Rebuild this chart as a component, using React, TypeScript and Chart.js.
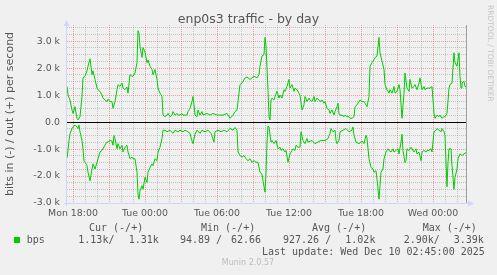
import React, { useEffect, useRef } from 'react';
import { Chart, registerables } from 'chart.js';

Chart.register(...registerables);

// ---------- data ----------
const chartTitle = 'enp0s3 traffic - by day';
const yAxisTitle = 'bits in (-) / out (+) per second';
const seriesName = 'bps';
const sampleMinutes = 5;           // rrd step
const firstSampleHour = -0.5;      // Mon 17:30, hours relative to Mon 18:00
const xMinHour = -0.5;
const xMaxHour = 32.75;

const xGridHours = [0, 1, 2, 3, 4, 5, 6, 7, 8, 9, 10, 11, 12, 13, 14, 15, 16, 17, 18, 19, 20, 21, 22, 23, 24, 25, 26, 27, 28, 29, 30, 31, 32];
const xLabelHours = [0, 6, 12, 18, 24, 30];
const xLabels = ['Mon 18:00', 'Tue 00:00', 'Tue 06:00', 'Tue 12:00', 'Tue 18:00', 'Wed 00:00'];

const yMin = -3;
const yMax = 3.6;
const yGridValues = [-3, -2.75, -2.5, -2.25, -2, -1.75, -1.5, -1.25, -1, -0.75, -0.5, -0.25, 0, 0.25, 0.5, 0.75, 1, 1.25, 1.5, 1.75, 2, 2.25, 2.5, 2.75, 3, 3.25, 3.5];
const yLabelValues = [-3, -2, -1, 0, 1, 2, 3];
const yLabels = ['-3.0 k', '-2.0 k', '-1.0 k', '0.0', '1.0 k', '2.0 k', '3.0 k'];

// out (+), kbit/s, at 5-minute sample numbers
const outSamples = [
  0, 1, 3, 5, 6, 8, 10, 11, 13, 15, 16, 18, 20, 21, 23, 25, 26, 28, 30, 31,
  33, 35, 36, 38, 40, 41, 43, 45, 46, 48, 50, 51, 53, 55, 56, 58, 60, 61, 63, 65,
  66, 68, 70, 71, 72, 73, 75, 76, 78, 80, 81, 83, 85, 86, 88, 90, 91, 93, 95, 96,
  98, 100, 101, 103, 105, 106, 108, 110, 111, 113, 115, 116, 118, 120, 121, 123, 125, 126, 127, 128,
  130, 131, 133, 135, 136, 140, 143, 146, 150, 153, 156, 160, 163, 166, 168, 170, 171, 173, 175, 176,
  178, 180, 183, 187, 190, 192, 193, 195, 197, 198, 199, 201, 202, 203, 204, 205, 207, 208, 210, 212,
  213, 215, 217, 218, 220, 222, 223, 225, 227, 228, 230, 232, 233, 235, 237, 238, 240, 242, 243, 245,
  247, 248, 250, 252, 253, 255, 257, 258, 260, 262, 263, 265, 267, 268, 270, 271, 272, 273, 275, 277,
  278, 280, 282, 283, 285, 287, 288, 290, 292, 293, 295, 297, 298, 300, 302, 303, 305, 307, 308, 310,
  312, 313, 315, 317, 318, 320, 322, 323, 325, 327, 328, 330, 332, 333, 335, 337, 338, 340, 342, 343,
  345, 347, 348, 350, 352, 353, 355, 357, 358, 360, 362, 363, 365, 367, 368, 370, 372, 373, 375, 377,
  378, 380, 382, 383, 385, 387, 388, 390, 392, 393, 394, 395, 397, 398, 399,
];
const outKbps = [
  1.32, 1.0, 0.82, 0.45, 0.32, 0.57, 0.14, 0.08, 0.2, 0.95, 1.64, 1.7, 1.9, 2.07, 2.35, 1.76, 1.9, 1.58, 1.26, 1.2,
  1.14, 1.0, 0.89, 0.82, 0.76, 0.85, 0.76, 0.76, 0.51, 0.76, 1.2, 1.39, 1.32, 1.45, 1.26, 1.2, 1.3, 1.07, 1.76, 1.7,
  1.7, 1.82, 2.2, 3.39, 3.3, 2.8, 2.4, 2.76, 2.6, 2.2, 2.3, 2.07, 1.95, 1.76, 1.95, 1.58, 1.26, 1.07, 0.95, 0.26,
  0.2, 0.26, 0.32, 0.2, 0.26, 0.39, 0.26, 0.32, 0.26, 0.26, 0.32, 0.26, 0.26, 0.26, 0.39, 0.51, 0.76, 0.95, 0.64, 0.26,
  0.2, 0.45, 0.26, 0.39, 0.26, 0.32, 0.26, 0.32, 0.26, 0.26, 0.26, 0.32, 0.14, 0.26, 0.39, 0.45, 0.76, 1.39, 1.45, 1.51,
  1.64, 1.67, 1.58, 1.7, 1.64, 1.76, 2.07, 2.45, 2.5, 3.14, 2.83, 1.2, 0.2, 0.08, 0.82, 0.89, 0.82, 0.95, 1.14, 0.89,
  1.0, 0.89, 1.2, 1.14, 1.32, 1.58, 1.26, 1.39, 1.14, 1.26, 1.2, 1.07, 1.0, 0.45, 0.64, 0.95, 0.76, 0.89, 0.82, 0.76,
  0.95, 0.76, 0.89, 0.82, 0.76, 0.82, 0.7, 0.76, 0.51, 0.45, 0.32, 0.45, 0.26, 0.39, 0.57, 0.7, 0.32, 0.26, 0.26, 0.2,
  0.26, 0.2, 0.2, 0.14, 0.14, 0.2, 0.57, 0.64, 0.76, 0.82, 0.76, 0.76, 0.7, 0.57, 0.95, 2.07, 2.2, 2.32, 2.39, 2.45,
  3.14, 2.57, 2.26, 1.95, 1.39, 1.2, 1.07, 1.2, 1.07, 1.32, 1.07, 1.14, 1.39, 1.2, 0.14, 1.07, 1.82, 1.26, 1.14, 1.58,
  1.26, 1.32, 1.39, 1.2, 1.45, 1.64, 1.2, 1.32, 1.2, 1.26, 1.26, 1.26, 1.32, 0.32, 0.14, 0.26, 0.2, 0.26, 0.14, 0.2,
  0.2, 0.32, 1.26, 1.39, 1.45, 2.57, 2.2, 2.07, 2.57, 1.7, 1.26, 1.45, 1.51, 1.32, 1.31,
];

// in (-), kbit/s, at 5-minute sample numbers (drawn below zero)
const inSamples = [
  0, 1, 2, 3, 5, 6, 8, 10, 11, 12, 13, 15, 16, 17, 18, 20, 21, 23, 25, 26,
  28, 30, 31, 33, 35, 36, 38, 40, 41, 43, 45, 46, 47, 48, 50, 51, 53, 55, 56, 58,
  60, 61, 63, 65, 66, 68, 70, 71, 72, 73, 75, 76, 78, 80, 81, 83, 85, 86, 88, 90,
  91, 93, 95, 96, 98, 100, 103, 106, 108, 111, 113, 116, 118, 121, 123, 125, 126, 128, 130, 133,
  135, 138, 141, 144, 147, 148, 151, 154, 157, 160, 163, 166, 168, 170, 171, 173, 175, 177, 179, 181,
  183, 185, 187, 189, 191, 193, 195, 196, 198, 199, 200, 201, 202, 204, 205, 207, 209, 211, 213, 214,
  216, 218, 219, 221, 223, 224, 226, 228, 229, 231, 233, 234, 236, 238, 240, 241, 245, 248, 251, 254,
  258, 261, 263, 264, 266, 268, 269, 270, 272, 273, 276, 279, 282, 285, 286, 287, 289, 292, 295, 297,
  299, 300, 302, 304, 306, 307, 309, 310, 312, 314, 316, 317, 319, 321, 322, 324, 326, 327, 329, 331,
  332, 334, 335, 336, 338, 339, 340, 342, 344, 347, 349, 350, 352, 354, 355, 357, 359, 360, 362, 364,
  365, 367, 369, 370, 372, 374, 375, 377, 378, 379, 380, 381, 382, 384, 385, 387, 388, 390, 391, 393,
  395, 397, 399,
];
const inKbps = [
  1.33, 1.05, 0.68, 0.43, 0.24, 0.18, 0.11, 0.18, 0.24, 0.11, 0.36, 0.68, 1.0, 1.45, 1.49, 1.61, 1.86, 2.18, 1.74, 1.55,
  1.74, 1.49, 1.36, 1.11, 1.05, 0.99, 0.85, 0.74, 0.74, 0.68, 0.7, 0.86, 0.5, 0.61, 0.99, 0.8, 0.99, 0.86, 1.11, 0.93,
  0.86, 1.11, 1.36, 1.3, 1.36, 1.36, 1.86, 2.67, 2.86, 2.55, 2.36, 2.49, 2.05, 2.24, 1.86, 1.68, 1.55, 1.61, 1.36, 1.43,
  1.11, 0.93, 0.61, 0.3, 0.3, 0.36, 0.3, 0.42, 0.3, 0.36, 0.3, 0.36, 0.3, 0.36, 0.42, 0.7, 0.8, 0.45, 0.3, 0.42,
  0.3, 0.36, 0.3, 0.42, 0.74, 0.36, 0.3, 0.36, 0.3, 0.36, 0.24, 0.3, 0.2, 0.3, 1.11, 1.24, 1.3, 1.24, 1.36, 1.43,
  1.36, 1.49, 1.43, 1.49, 1.49, 1.86, 1.93, 2.18, 2.6, 1.9, 0.74, 0.15, 0.18, 0.74, 0.68, 0.8, 0.68, 0.99, 0.93, 1.05,
  0.99, 1.11, 1.05, 1.49, 1.18, 1.11, 0.99, 1.05, 0.86, 0.93, 0.93, 0.36, 0.68, 0.8, 0.61, 0.74, 0.68, 0.8, 0.74, 0.68,
  0.68, 0.61, 0.42, 0.24, 0.36, 0.3, 0.68, 0.8, 0.68, 0.36, 0.3, 0.24, 0.36, 0.3, 0.18, 0.49, 0.74, 0.8, 0.7, 0.8,
  0.49, 0.6, 1.36, 1.68, 1.74, 1.86, 1.8, 2.11, 2.86, 1.86, 1.74, 1.36, 1.11, 0.99, 1.05, 1.11, 0.99, 1.11, 1.05, 0.99,
  1.18, 0.74, 0.45, 1.05, 1.5, 1.43, 0.99, 1.05, 0.93, 1.11, 0.99, 1.18, 1.11, 1.43, 1.11, 1.05, 1.11, 1.05, 1.05, 0.99,
  1.11, 0.36, 0.3, 0.24, 0.3, 0.36, 0.24, 0.36, 0.49, 1.5, 2.4, 1.5, 0.99, 0.99, 1.61, 2.49, 2.05, 1.74, 1.36, 1.18,
  1.24, 1.18, 1.13,
];

const legendHeaders = ['Cur (-/+)', 'Min (-/+)', 'Avg (-/+)', 'Max (-/+)'];
const legendValues = ['1.13k/', '1.31k', '94.89 /', '62.66', '927.26 /', '1.02k', '2.90k/', '3.39k'];
const lastUpdate = 'Last update: Wed Dec 10 02:45:00 2025';
const muninVersion = 'Munin 2.0.57';
const rrdCredit = 'RRDTOOL / TOBI OETIKER';

// ---------- style / layout ----------
const W = 497;
const H = 275;
const TEXT = '#555555';
const LINE = '#00CC00';
const MINOR = 'rgba(150,150,150,0.5)';
const MAJOR = 'rgba(240,70,70,0.5)';
const AXIS = '#CFD6F8';
const SANS = "'DejaVu Sans', sans-serif";
const MONO = "'DejaVu Sans Mono', monospace";
const headerLeft = [89, 201, 312, 422.7];
const valueLeft = [78.3, 128.7, 180, 231, 283, 345.3, 403.7, 453.7];

const decorPlugin = {
  id: 'muninDecor',
  beforeDatasetsDraw(chart: any) {
    const { ctx, chartArea: a, scales } = chart;
    const y0 = Math.round(scales.y.getPixelForValue(0) - 0.5) + 0.5;
    ctx.save();
    ctx.strokeStyle = '#000000';
    ctx.lineWidth = 1;
    ctx.beginPath();
    ctx.moveTo(a.left, y0);
    ctx.lineTo(a.right, y0);
    ctx.stroke();
    ctx.restore();
  },
  afterDraw(chart: any) {
    const { ctx, chartArea: a } = chart;
    const lx = a.left - 0.5;
    const by = a.bottom + 0.5;
    ctx.save();
    ctx.strokeStyle = AXIS;
    ctx.fillStyle = AXIS;
    ctx.lineWidth = 1;
    ctx.beginPath();
    ctx.moveTo(lx, a.bottom + 3);
    ctx.lineTo(lx, a.top - 2);
    ctx.moveTo(a.left - 3, by);
    ctx.lineTo(a.right + 3, by);
    ctx.stroke();
    ctx.beginPath();
    ctx.moveTo(lx, a.top - 5);
    ctx.lineTo(lx - 3, a.top + 1);
    ctx.lineTo(lx + 3, a.top + 1);
    ctx.closePath();
    ctx.fill();
    ctx.beginPath();
    ctx.moveTo(a.right + 8, by);
    ctx.lineTo(a.right + 2, by - 3);
    ctx.lineTo(a.right + 2, by + 3);
    ctx.closePath();
    ctx.fill();
    ctx.restore();
  },
};

export default function App() {
  const canvasRef = useRef<HTMLCanvasElement | null>(null);

  useEffect(() => {
    const canvas = canvasRef.current;
    if (!canvas) return;
    Chart.defaults.font.family = SANS;

    const toHour = (s: number) => firstSampleHour + (s * sampleMinutes) / 60;
    const outData = outSamples.map((s, i) => ({ x: toHour(s), y: outKbps[i] }));
    const inData = inSamples.map((s, i) => ({ x: toHour(s), y: -inKbps[i] }));

    const chart = new Chart(canvas, {
      type: 'line',
      data: {
        datasets: [
          { label: seriesName + ' in', data: inData, borderColor: LINE, borderWidth: 1, pointRadius: 0, fill: false, tension: 0 },
          { label: seriesName + ' out', data: outData, borderColor: LINE, borderWidth: 1, pointRadius: 0, fill: false, tension: 0 },
        ],
      },
      options: {
        responsive: false,
        animation: false,
        events: [],
        layout: { padding: 0 },
        plugins: {
          legend: { display: false },
          tooltip: { enabled: false },
          title: {
            display: true,
            text: chartTitle,
            color: TEXT,
            font: { family: SANS, size: 12.5, weight: 'normal', lineHeight: 0.85 },
            padding: { top: 14.375, bottom: 0 },
          },
        },
        scales: {
          x: {
            type: 'linear',
            min: xMinHour,
            max: xMaxHour,
            afterFit: (s: any) => { s.height = 72; },
            afterBuildTicks: (s: any) => { s.ticks = xGridHours.map((v) => ({ value: v })); },
            ticks: {
              autoSkip: false,
              maxRotation: 0,
              padding: 5,
              color: TEXT,
              font: { family: SANS, size: 9.4 },
              callback: (v: any) => {
                const i = xLabelHours.indexOf(Number(v));
                return i >= 0 ? xLabels[i] : '';
              },
            },
            grid: {
              drawTicks: false,
              lineWidth: 1,
              color: (c: any) => (c.tick && c.tick.value % 3 === 0 ? MAJOR : MINOR),
            },
            border: { display: false, dash: [1, 1] },
          },
          y: {
            type: 'linear',
            min: yMin,
            max: yMax,
            afterFit: (s: any) => { s.width = 67; },
            afterBuildTicks: (s: any) => { s.ticks = yGridValues.map((v) => ({ value: v })); },
            ticks: {
              autoSkip: false,
              padding: 7,
              color: TEXT,
              font: { family: SANS, size: 9.4 },
              callback: (v: any) => {
                const i = yLabelValues.indexOf(Number(v));
                return i >= 0 ? yLabels[i] : '';
              },
            },
            grid: {
              drawTicks: false,
              lineWidth: 1,
              color: (c: any) => {
                const v = c.tick ? c.tick.value : 1;
                if (v === 0) return 'rgba(0,0,0,0)';
                return Number.isInteger(v) ? MAJOR : MINOR;
              },
            },
            border: { display: false, dash: [1, 1] },
            title: {
              display: true,
              text: yAxisTitle,
              color: TEXT,
              font: { family: SANS, size: 11 },
              padding: { top: 4, bottom: 0 },
            },
          },
          y2: {
            type: 'linear',
            position: 'right',
            afterFit: (s: any) => { s.width = 31; },
            ticks: { display: false },
            grid: { display: false },
            border: { display: true, color: '#a0a0a0', width: 1 },
          },
        },
      },
      plugins: [decorPlugin],
    } as any);

    return () => chart.destroy();
  }, []);

  const mono: React.CSSProperties = {
    position: 'absolute',
    fontFamily: MONO,
    fontSize: 10,
    lineHeight: '12px',
    color: TEXT,
    whiteSpace: 'pre',
  };

  return (
    <div style={{ position: 'absolute', left: 0, top: 0, width: W, height: H, background: '#F0F0F0', overflow: 'hidden' }}>
      <canvas ref={canvasRef} width={W} height={H} style={{ position: 'absolute', left: 0, top: 0, width: W, height: H }} />
      <div
        style={{
          position: 'absolute', left: 486, top: 5, writingMode: 'vertical-rl', fontFamily: SANS,
          fontSize: 7.5, lineHeight: '8px', color: '#c4c4c4', whiteSpace: 'nowrap',
        }}
      >
        {rrdCredit}
      </div>
      {legendHeaders.map((t, i) => (
        <div key={'h' + i} style={{ ...mono, left: headerLeft[i], top: 221.5 }}>{t}</div>
      ))}
      <div style={{ position: 'absolute', left: 14, top: 237, width: 6, height: 6, background: LINE }} />
      <div style={{ ...mono, left: 26.7, top: 234.2 }}>{seriesName}</div>
      {legendValues.map((t, i) => (
        <div key={'v' + i} style={{ ...mono, left: valueLeft[i], top: 234.2 }}>{t}</div>
      ))}
      <div style={{ ...mono, left: 262, top: 245.9 }}>{lastUpdate}</div>
      <div
        style={{
          position: 'absolute', left: 0, top: 258.4, width: W - 1, textAlign: 'center', fontFamily: SANS,
          fontSize: 8, lineHeight: '10px', color: '#bdbdbd',
        }}
      >
        {muninVersion}
      </div>
    </div>
  );
}
